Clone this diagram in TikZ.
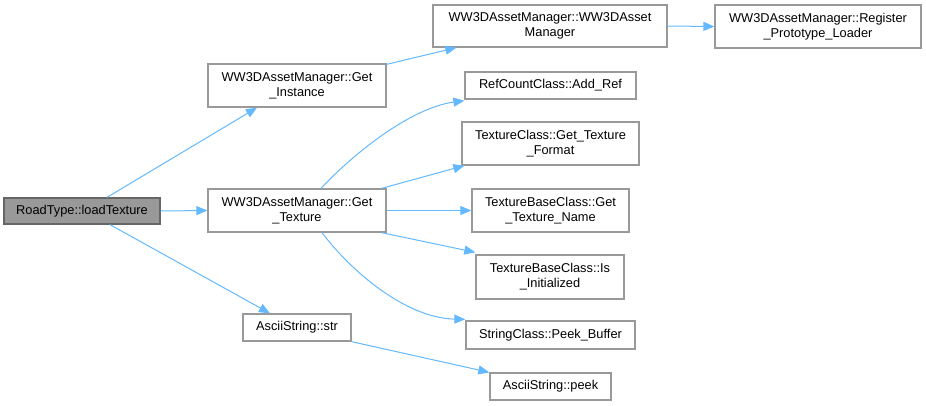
\documentclass[tikz,border=0pt]{standalone}
\usepackage{fontspec}
\setmainfont{Liberation Sans}
\usetikzlibrary{arrows.meta}
\definecolor{edgeblue}{HTML}{63B8FF}
\definecolor{boxborder}{HTML}{999999}
\definecolor{rootfill}{HTML}{999999}
\definecolor{rootborder}{HTML}{666666}
\begin{document}
\begin{tikzpicture}[x=1pt,y=-1pt,
  fn/.style={draw=boxborder,line width=1.3pt,fill=white,inner sep=0pt,align=center,
    font=\fontsize{12.8}{15}\selectfont},
  rootfn/.style={fn,draw=rootborder,fill=rootfill},
  call/.style={draw=edgeblue,line width=1pt,-{Triangle[length=11pt,width=9pt]}}]
\useasboundingbox (0,0) rectangle (926,405);
\node[rootfn,minimum width=156pt,minimum height=26pt] (root) at (82,211) {RoadType::loadTexture};
\node[fn,minimum width=178pt,minimum height=43pt] (gi) at (297,85.5) {WW3DAssetManager::Get\\\_Instance};
\node[fn,minimum width=178pt,minimum height=43pt] (gt) at (297,210.5) {WW3DAssetManager::Get\\\_Texture};
\node[fn,minimum width=108pt,minimum height=27pt] (str) at (297,327.5) {AsciiString::str};
\node[fn,minimum width=234pt,minimum height=42pt] (ctor) at (550,26) {WW3DAssetManager::WW3DAsset\\Manager};
\node[fn,minimum width=206pt,minimum height=43pt] (reg) at (818,26.5) {WW3DAssetManager::Register\\\_Prototype\_Loader};
\node[fn,minimum width=171pt,minimum height=27pt] (addref) at (550.5,85.5) {RefCountClass::Add\_Ref};
\node[fn,minimum width=177pt,minimum height=43pt] (fmt) at (550.5,143.5) {TextureClass::Get\_Texture\\\_Format};
\node[fn,minimum width=157pt,minimum height=43pt] (name) at (550.5,210.5) {TextureBaseClass::Get\\\_Texture\_Name};
\node[fn,minimum width=148pt,minimum height=44pt] (init) at (550,277) {TextureBaseClass::Is\\\_Initialized};
\node[fn,minimum width=169pt,minimum height=28pt] (peekbuf) at (550.5,335) {StringClass::Peek\_Buffer};
\node[fn,minimum width=121pt,minimum height=27pt] (peek) at (550.5,386.5) {AsciiString::peek};

\draw[call] ([xshift=25pt]root.north) -- ([xshift=-40pt]gi.south);
\draw[call] (root.east) -- (gt.west);
\draw[call] ([xshift=28pt]root.south) -- ([xshift=-27pt]str.north);
\draw[call] ([yshift=-1pt]gi.north east) -- ([xshift=24pt]ctor.south west);
\draw[call] (ctor.east) -- (reg.west);
\draw[call] ([xshift=24pt]gt.north) .. controls (352,155) and (410,108) .. ([yshift=-1pt]addref.south west);
\draw[call] ([xshift=-5pt]gt.north east) -- ([xshift=3pt]fmt.south west);
\draw[call] (gt.east) -- (name.west);
\draw[call] ([xshift=-5pt]gt.south east) -- ([yshift=2pt]init.north west);
\draw[call] ([xshift=25pt]gt.south) .. controls (350,270) and (405,318) .. ([yshift=1pt]peekbuf.north west);
\draw[call] (str.south east) -- (peek.north west);
\end{tikzpicture}
\end{document}
